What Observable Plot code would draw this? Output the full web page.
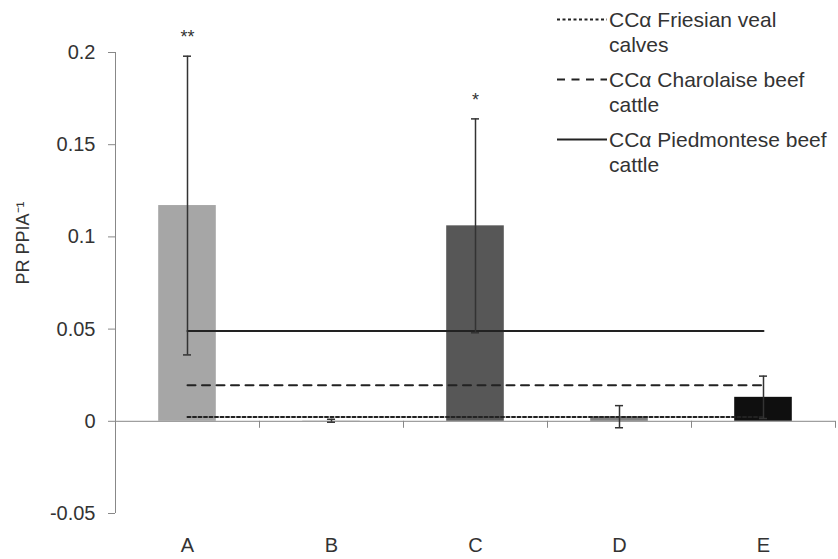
<!DOCTYPE html>
<html>
<head>
<meta charset="utf-8">
<script src="https://cdn.jsdelivr.net/npm/d3@7"></script>
<script src="https://cdn.jsdelivr.net/npm/@observablehq/plot@0.6"></script>
<style>
  html, body { margin: 0; padding: 0; background: #fff; }
  #wrap { position: relative; width: 838px; height: 559px; font-family: "Liberation Sans", Arial, sans-serif; }
  #legend { position: absolute; left: 557px; top: 7px; color: #333; font-size: 21px; line-height: 25px; }
  .item { display: flex; align-items: flex-start; margin-bottom: 10px; }
  .item svg { flex: none; margin-right: 2px; }
</style>
</head>
<body>
<div id="wrap"><div id="legend"></div></div>
<script>
const cats = ["A", "B", "C", "D", "E"];
const means = [0.117, 0.0003, 0.106, 0.0025, 0.013];
const errs = [0.081, 0.0008, 0.058, 0.006, 0.0115];
const barColors = ["#a6a6a6", "#cfcfcf", "#575757", "#7f7f7f", "#0f0f0f"];
const stars = ["**", "", "*", "", ""];
const refNameLines = [["CCα Friesian veal", "calves"], ["CCα Charolaise beef", "cattle"], ["CCα Piedmontese beef", "cattle"]];
const refValues = [0.0023, 0.0195, 0.049];
const refDash = ["3,2.5", "8,6.5", null];
const yTicks = [-0.05, 0, 0.05, 0.1, 0.15, 0.2];
const yLabel = "PR PPIA⁻¹";

const bars = cats.map((c, i) => ({i, cat: c, mean: means[i], err: errs[i], color: barColors[i], star: stars[i]}));
const capHalf = 0.028;
const half = 0.2;

const refMarks = refValues.map((v, k) => Plot.lineY([0, cats.length - 1].map(i => ({i, v})), {
  x: "i", y: "v", stroke: "#222", strokeWidth: 2, strokeDasharray: refDash[k] || undefined
}));

const chart = Plot.plot({
  width: 838,
  height: 559,
  marginLeft: 115,
  marginRight: 3,
  marginTop: 52,
  marginBottom: 46,
  style: {fontFamily: "Liberation Sans, Arial, sans-serif", background: "#fff"},
  x: {domain: [-0.5, cats.length - 0.5], axis: null},
  y: {domain: [yTicks[0], yTicks[yTicks.length - 1]], axis: null},
  marks: [
    Plot.rectY(bars, {x1: d => d.i - half, x2: d => d.i + half, y1: 0, y2: "mean", fill: "color"}),
    Plot.ruleY([0], {stroke: "#888", strokeWidth: 1}),
    Plot.ruleX([-0.5], {y1: yTicks[0], y2: yTicks[yTicks.length - 1], stroke: "#888"}),
    Plot.ruleX(d3.range(cats.length).map(i => i + 0.5), {y1: 0, y2: 0, insetBottom: -7, stroke: "#888"}),
    Plot.axisY({ticks: yTicks, tickFormat: d => String(d), tickSize: 7, tickPadding: 13, fontSize: 20, stroke: "#888", fill: "#333", label: null}),
    Plot.axisX({ticks: d3.range(cats.length), tickFormat: i => cats[i], tickSize: 0, tickPadding: 24, fontSize: 20, fill: "#333", label: null}),
    ...refMarks,
    Plot.ruleX(bars, {x: "i", y1: d => d.mean - d.err, y2: d => d.mean + d.err, stroke: "#333", strokeWidth: 1.5}),
    Plot.ruleY(bars, {x1: d => d.i - capHalf, x2: d => d.i + capHalf, y: d => d.mean + d.err, stroke: "#333", strokeWidth: 1.5}),
    Plot.ruleY(bars, {x1: d => d.i - capHalf, x2: d => d.i + capHalf, y: d => d.mean - d.err, stroke: "#333", strokeWidth: 1.5}),
    Plot.text(bars.filter(d => d.star), {x: "i", y: d => d.mean + d.err, text: "star", dy: -19, fontSize: 18, fill: "#333"}),
    Plot.text([yLabel], {frameAnchor: "left", textAnchor: "middle", text: d => d, rotate: -90, dx: -92, dy: -40, fontSize: 18, fill: "#333"})
  ]
});
document.getElementById("wrap").prepend(chart);

const legend = document.getElementById("legend");
refNameLines.forEach((lines, k) => {
  const item = document.createElement("div");
  item.className = "item";
  const ns = "http://www.w3.org/2000/svg";
  const svg = document.createElementNS(ns, "svg");
  svg.setAttribute("width", 50);
  svg.setAttribute("height", 25);
  const ln = document.createElementNS(ns, "line");
  ln.setAttribute("x1", 0); ln.setAttribute("x2", 50);
  ln.setAttribute("y1", 12.5); ln.setAttribute("y2", 12.5);
  ln.setAttribute("stroke", "#222"); ln.setAttribute("stroke-width", 2);
  if (refDash[k]) ln.setAttribute("stroke-dasharray", refDash[k]);
  svg.appendChild(ln);
  item.appendChild(svg);
  const txt = document.createElement("div");
  txt.innerHTML = lines.join("<br>");
  item.appendChild(txt);
  legend.appendChild(item);
});
</script>
</body>
</html>
